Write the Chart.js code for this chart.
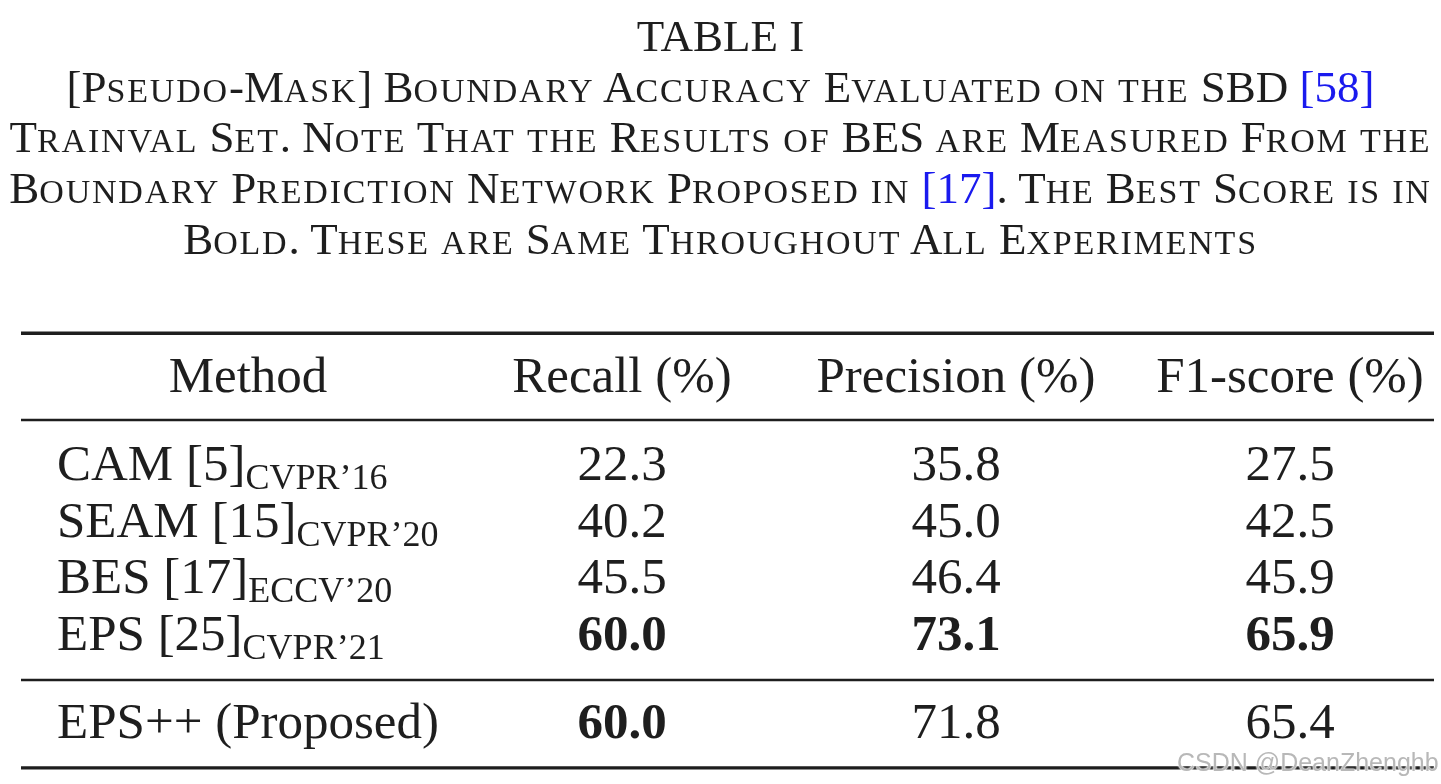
<!DOCTYPE html>
<html>
<head>
<meta charset="utf-8">
<title>Table I</title>
<script src="https://cdn.jsdelivr.net/npm/chart.js@4.4.1/dist/chart.umd.min.js"></script>
<style>
  html, body { margin: 0; padding: 0; background: #fff; width: 1441px; height: 784px; overflow: hidden; }
  #caption {
    position: absolute; left: 0; top: 11px; width: 1441px; z-index: 2;
    text-align: center; color: #1e1e1e; white-space: nowrap;
    font: 45px/50.7px "Liberation Serif", "Times New Roman", serif;
  }
  /* small caps: lowercase runs shown as smaller capitals */
  #caption .sc { font-size: 34px; line-height: 0; letter-spacing: 1.8px; text-transform: uppercase; }
  #caption .ref { color: #1a1aee; }
  #table { position: absolute; left: 0; top: 0; z-index: 1; }
  #mark {
    position: absolute; left: 1177px; top: 750px; z-index: 3;
    font: 25px/1 "Liberation Sans", Arial, sans-serif; color: #b8b8b8;
    text-shadow: 0 0 1px #fff, 0 0 2px #fff, 0 0 2px #fff;
    white-space: nowrap;
  }
</style>
</head>
<body>
<div id="caption">
  TABLE I<br>
  [Pseudo-Mask] Boundary Accuracy Evaluated on the SBD <span class="ref">[58]</span><br>
  Trainval Set. Note That the Results of BES are Measured From the<br>
  Boundary Prediction Network Proposed in <span class="ref">[17]</span>. The Best Score is in<br>
  Bold. These are Same Throughout All Experiments
</div>
<canvas id="table" width="1441" height="784"></canvas>
<div id="mark">CSDN @DeanZhenghb</div>

<script>
// table data
const headFirst = 'Method';
const metrics = ['Recall (%)', 'Precision (%)', 'F1-score (%)'];
const methods = ['CAM [5]', 'SEAM [15]', 'BES [17]', 'EPS [25]', 'EPS++ (Proposed)'];
const venues = ['CVPR\u201916', 'CVPR\u201920', 'ECCV\u201920', 'CVPR\u201921', ''];
const recall = [22.3, 40.2, 45.5, 60.0, 60.0];
const precision = [35.8, 45.0, 46.4, 73.1, 71.8];
const f1score = [27.5, 42.5, 45.9, 65.9, 65.4];

const columns = [recall, precision, f1score];
const proposedRow = methods.length - 1;

// look
const INK = '#1e1e1e';
const FONT = '"Liberation Serif", "Times New Roman", serif';
const MAIN_SIZE = 51;
const SUB_SIZE = 36;
const SUB_DROP = 9;
const GROUP_GAP = 1.55;   // distance (in row steps) across a rule
const RULE_LEFT = 21, RULE_RIGHT = 1434;

// wrap lowercase runs of the caption in small-cap spans
function smallCaps(el) {
  [...el.childNodes].forEach(n => {
    if (n.nodeType === 3) {
      const html = n.textContent.replace(/[a-z]+/g, s => `<span class="sc">${s}</span>`);
      const tmp = document.createElement('span');
      tmp.innerHTML = html;
      n.replaceWith(...tmp.childNodes);
    } else if (n.nodeType === 1 && n.tagName !== 'BR') {
      smallCaps(n);
    }
  });
}
smallCaps(document.getElementById('caption'));

const tableText = {
  id: 'tableText',
  afterDraw(chart) {
    const { ctx, scales: { x, y } } = chart;
    const step = y.getPixelForValue(1) - y.getPixelForValue(0);
    const rowY = i => y.getPixelForValue(i < proposedRow ? i : i - 1 + GROUP_GAP);
    const headY = y.getPixelForValue(-GROUP_GAP);
    const labelX = RULE_LEFT + 36;

    ctx.save();
    ctx.fillStyle = INK;
    ctx.strokeStyle = INK;
    ctx.textBaseline = 'alphabetic';

    // rules
    const rule = (yy, w) => {
      ctx.lineWidth = w;
      ctx.beginPath();
      ctx.moveTo(RULE_LEFT, yy);
      ctx.lineTo(RULE_RIGHT, yy);
      ctx.stroke();
    };
    rule(headY - 1.04 * step, 3.4);
    rule(headY + 0.49 * step, 2.4);
    rule(rowY(proposedRow - 1) + 0.53 * step, 2.4);
    rule(rowY(proposedRow) + 0.53 * step, 3.4);

    // method column: measure widest label to centre its header
    const main = `${MAIN_SIZE}px ${FONT}`;
    const sub = `${SUB_SIZE}px ${FONT}`;
    let widest = 0;
    methods.forEach((m, i) => {
      ctx.font = main;
      let w = ctx.measureText(m).width;
      ctx.font = sub;
      w += ctx.measureText(venues[i]).width;
      widest = Math.max(widest, w);
    });

    // header
    ctx.font = main;
    ctx.textAlign = 'center';
    ctx.fillText(headFirst, labelX + widest / 2, headY);
    metrics.forEach((h, c) => ctx.fillText(h, x.getPixelForValue(c), headY));

    // rows
    methods.forEach((m, i) => {
      const by = rowY(i);
      ctx.textAlign = 'left';
      ctx.font = main;
      ctx.fillText(m, labelX, by);
      const w = ctx.measureText(m).width;
      if (venues[i]) {
        ctx.font = sub;
        ctx.fillText(venues[i], labelX + w, by + SUB_DROP);
      }
      ctx.textAlign = 'center';
      columns.forEach((col, c) => {
        const best = Math.max(...col);
        ctx.font = (col[i] === best ? 'bold ' : '') + main;
        ctx.fillText(col[i].toFixed(1), x.getPixelForValue(c), by);
      });
    });
    ctx.restore();
  }
};

new Chart(document.getElementById('table'), {
  type: 'scatter',
  data: { datasets: [] },
  options: {
    responsive: false,
    animation: false,
    events: [],
    layout: { padding: { left: 622, right: 151, top: 480, bottom: 134 } },
    plugins: { legend: { display: false }, tooltip: { enabled: false } },
    scales: {
      x: { type: 'category', labels: metrics, offset: false, display: false },
      y: { type: 'category', labels: methods.slice(0, proposedRow), offset: false, display: false }
    }
  },
  plugins: [tableText]
});
</script>
</body>
</html>
